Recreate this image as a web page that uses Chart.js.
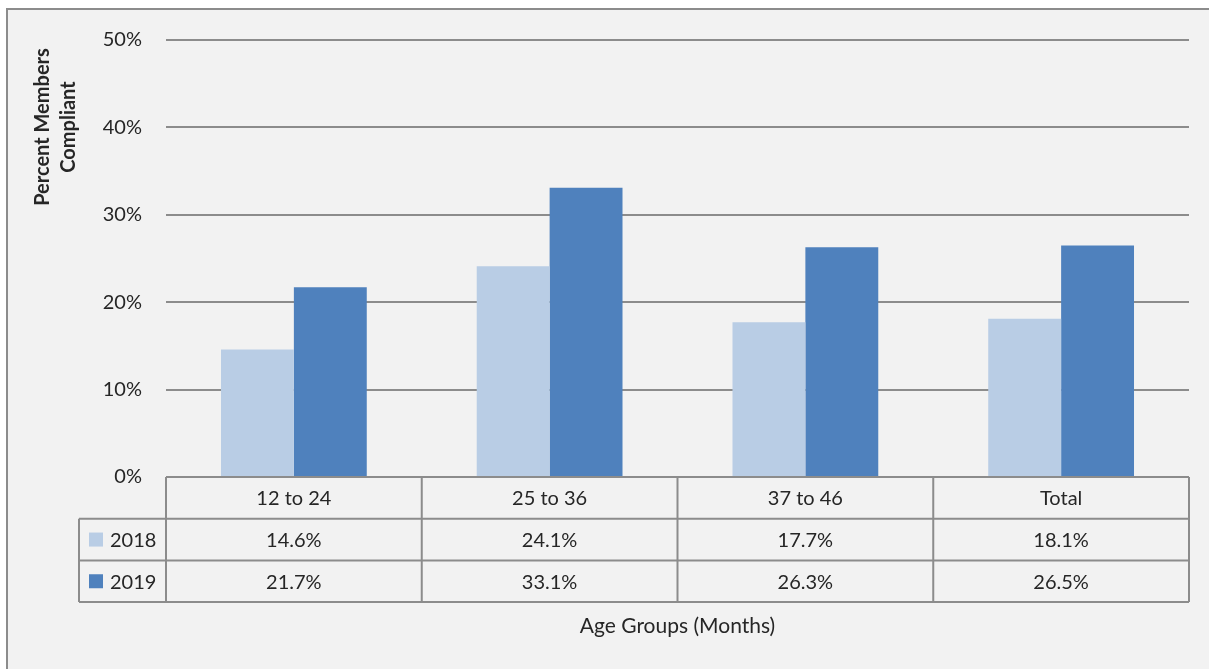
<!DOCTYPE html>
<html>
<head>
<meta charset="utf-8">
<script src="https://cdn.jsdelivr.net/npm/chart.js@4"></script>
<style>
  html, body { margin: 0; padding: 0; background: #ffffff; }
  #wrap { width: 1209px; height: 669px; position: relative; }
</style>
</head>
<body>
<div id="wrap"><canvas id="complianceChart" width="1209" height="669"></canvas></div>
<script>
// Chart data
const categories = ['12 to 24', '25 to 36', '37 to 46', 'Total'];
const seriesNames = ['2018', '2019'];
const values2018 = [14.6, 24.1, 17.7, 18.1];
const values2019 = [21.7, 33.1, 26.3, 26.5];
const yTicks = [0, 10, 20, 30, 40, 50];

const colors = ['#b9cde5', '#4f81bd'];
const lineColor = '#8c8c8c';
const textColor = '#262626';
const fontFamily = 'Lato, "Open Sans", sans-serif';

// Excel-style frame, data table and titles
const tablePlugin = {
    id: 'dataTable',
    beforeDraw(chart) {
        const ctx = chart.ctx;
        ctx.save();
        ctx.fillStyle = '#ffffff';
        ctx.fillRect(0, 0, chart.width, chart.height);
        ctx.fillStyle = '#f2f2f2';
        ctx.fillRect(7, 9, chart.width - 7, chart.height - 9);
        ctx.strokeStyle = lineColor;
        ctx.lineWidth = 2;
        ctx.beginPath();
        ctx.moveTo(7, chart.height);
        ctx.lineTo(7, 9);
        ctx.lineTo(chart.width, 9);
        ctx.stroke();
        ctx.restore();
    },
    afterDraw(chart) {
        const ctx = chart.ctx;
        const area = chart.chartArea;
        const xScale = chart.scales.x;
        const n = categories.length;
        const catW = (area.right - area.left) / n;
        const rowH = 41.7;
        const top = area.bottom;
        const legendLeft = 79;
        const rows = [values2018, values2019];

        ctx.save();
        ctx.strokeStyle = lineColor;
        ctx.lineWidth = 2;
        ctx.beginPath();
        // vertical lines of the category columns
        for (let i = 0; i <= n; i++) {
            const x = area.left + i * catW;
            ctx.moveTo(x, top);
            ctx.lineTo(x, top + rowH * 3);
        }
        // legend column left edge
        ctx.moveTo(legendLeft, top + rowH);
        ctx.lineTo(legendLeft, top + rowH * 3);
        // horizontal lines
        for (let r = 1; r <= 3; r++) {
            ctx.moveTo(legendLeft, top + rowH * r);
            ctx.lineTo(area.right, top + rowH * r);
        }
        ctx.stroke();

        ctx.fillStyle = textColor;
        ctx.font = '20px ' + fontFamily;
        ctx.textAlign = 'center';
        ctx.textBaseline = 'middle';
        categories.forEach((c, i) => {
            const cx = xScale.getPixelForValue(i);
            ctx.fillText(c, cx, top + rowH * 0.5 + 1);
            rows.forEach((vals, r) => {
                ctx.fillText(vals[i].toFixed(1) + '%', cx, top + rowH * (r + 1.5) + 1);
            });
        });

        // legend keys
        ctx.textAlign = 'left';
        seriesNames.forEach((name, r) => {
            const cy = top + rowH * (r + 1.5);
            ctx.fillStyle = colors[r];
            ctx.fillRect(89, cy - 7, 14, 14);
            ctx.fillStyle = textColor;
            ctx.fillText(name, 110, cy + 1);
        });

        // x axis title
        ctx.textAlign = 'center';
        ctx.font = '21px ' + fontFamily;
        ctx.fillText('Age Groups (Months)', (area.left + area.right) / 2, 626);

        // y axis title
        ctx.translate(56, 127);
        ctx.rotate(-Math.PI / 2);
        ctx.font = 'bold 20px ' + fontFamily;
        ctx.fillText('Percent Members', 0, -13);
        ctx.fillText('Compliant', 0, 13);
        ctx.restore();
    }
};

const ctx = document.getElementById('complianceChart');
new Chart(ctx, {
    type: 'bar',
    data: {
        labels: categories,
        datasets: [
            { label: seriesNames[0], data: values2018, backgroundColor: colors[0] },
            { label: seriesNames[1], data: values2019, backgroundColor: colors[1] }
        ]
    },
    options: {
        responsive: false,
        animation: false,
        layout: { padding: { top: 40, right: 20, bottom: 192, left: 0 } },
        datasets: {
            bar: { barPercentage: 1, categoryPercentage: 0.57, borderWidth: 0 }
        },
        plugins: {
            legend: { display: false },
            tooltip: { enabled: false }
        },
        scales: {
            x: { display: false },
            y: {
                min: 0,
                max: 50,
                afterBuildTicks: (scale) => {
                    scale.ticks = yTicks.map(v => ({ value: v }));
                },
                afterFit: (scale) => { scale.width = 166; },
                border: { display: false },
                grid: { color: lineColor, lineWidth: 2, drawTicks: false },
                ticks: {
                    color: textColor,
                    padding: 24,
                    font: { family: fontFamily, size: 20 },
                    callback: (v) => v + '%'
                }
            }
        }
    },
    plugins: [tablePlugin]
});
</script>
</body>
</html>
